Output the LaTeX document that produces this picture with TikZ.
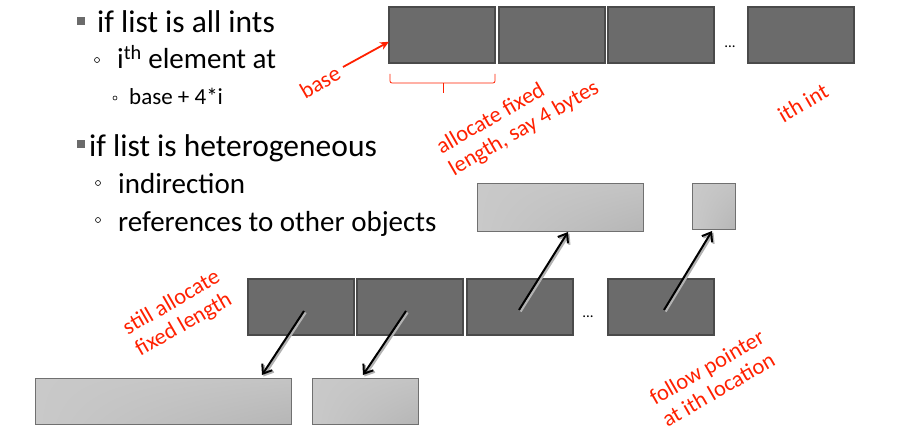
\documentclass[tikz,border=0pt]{standalone}
\usepackage{fontspec}
\setmainfont{Carlito}
\usetikzlibrary{arrows.meta,calc,shadings}
\definecolor{darkfill}{RGB}{107,107,107}
\definecolor{darkline}{RGB}{74,74,74}
\definecolor{lightfill}{RGB}{201,201,201}
\definecolor{lightmid}{RGB}{196,196,196}
\definecolor{lightdark}{RGB}{182,182,182}
\definecolor{lightline}{RGB}{112,112,112}
\definecolor{redlab}{RGB}{255,32,0}
\tikzset{
  darkbox/.style={draw=darkline,line width=2.2pt,fill=darkfill,inner sep=0pt,outer sep=0pt,anchor=north west,minimum height=56pt},
  lightbox/.style={draw=lightline,line width=1pt,inner sep=0pt,outer sep=0pt,anchor=north west,
    upper left=lightfill,upper right=lightmid,lower left=lightfill,lower right=lightdark},
  redtext/.style={text=redlab,font=\fontsize{22.5}{25}\selectfont,rotate=30,align=left,inner sep=0pt},
  bigtext/.style={font=\fontsize{31.5}{36}\selectfont,anchor=base west,inner sep=0pt},
  midtext/.style={font=\fontsize{29}{34}\selectfont,anchor=base west,inner sep=0pt},
  smalltext/.style={font=\fontsize{23}{27}\selectfont,anchor=base west,inner sep=0pt},
  sqbullet/.style={fill=darkfill,inner sep=0pt,minimum size=8pt},
  circbullet/.style={draw=black,line width=0.6pt,circle,inner sep=0pt,minimum size=5pt},
  ptr/.style={line width=2pt,-{Straight Barb[length=8pt,width=12pt,line width=2pt]}},
  dots/.style={font=\fontsize{15}{16}\selectfont,inner sep=0pt}
}
\begin{document}
\begin{tikzpicture}[x=1pt,y=-1pt]
\useasboundingbox (0,0) rectangle (903,444);
% bullets and text
\node[sqbullet] (b1) at (81,21.5) {};
\node[bigtext] (t1) at (97,33) {if list is all ints};
\node[circbullet] (c1) at (97,60) {};
\node[midtext] (t2) at (117,69) {i\textsuperscript{th} element at};
\node[circbullet,minimum size=4pt] (c2) at (115,98) {};
\node[smalltext] (t3) at (129,104) {base + 4*i};
\node[sqbullet] (b2) at (81,143.5) {};
\node[bigtext] (t4) at (89,156) {if list is heterogeneous};
\node[circbullet] (c3) at (98,183) {};
\node[midtext] (t5) at (118,193) {indirection};
\node[circbullet] (c4) at (98,220) {};
\node[midtext] (t6) at (118,231) {references to other objects};
% top row
\node[darkbox,minimum width=106pt] (a1) at (389,7) {};
\node[darkbox,minimum width=106pt] (a2) at (499,7) {};
\node[darkbox,minimum width=106pt] (a3) at (608,7) {};
\node[dots] (d1) at (730,47) {...};
\node[darkbox,minimum width=106pt] (a4) at (748,7) {};
% base arrow
\coordinate (basetail) at (343,67);
\node[redtext] (lbase) at (320,82) {base};
\draw[redlab,line width=1.8pt,-{Stealth[length=9pt,width=8pt]}] (basetail) -- ($(a1.north west)!0.62!(a1.south west)$);
% bracket
\draw[redlab,line width=0.8pt,rounded corners=2pt] (390,74) -- (390,83) -- (495,83) -- (495,74);
\draw[redlab,line width=0.8pt] (443,83) -- (443,93);
\node[redtext] (lalloc) at (518,118) {allocate fixed\\length, say 4 bytes};
\node[redtext] (lith) at (803,103) {ith int};
% pointed-to boxes
\node[lightbox,minimum width=166pt,minimum height=48pt] (h1) at (477,183) {};
\node[lightbox,minimum width=43pt,minimum height=46pt] (h2) at (692,183) {};
% middle row
\node[darkbox,minimum width=106pt] (m1) at (248,279) {};
\node[darkbox,minimum width=106pt] (m2) at (357,279) {};
\node[darkbox,minimum width=106pt] (m3) at (467,279) {};
\node[dots] (d2) at (588,317) {...};
\node[darkbox,minimum width=106pt] (m4) at (608,279) {};
% bottom boxes
\node[lightbox,minimum width=256pt,minimum height=46pt] (l1) at (35,378) {};
\node[lightbox,minimum width=106pt,minimum height=46pt] (l2) at (312,378) {};
% pointers
\coordinate (p1) at (304,311);
\coordinate (p2) at (406,311);
\coordinate (p3) at (519,310);
\coordinate (p4) at (664,310);
\coordinate (q1) at (262,375);
\coordinate (q2) at (363,375);
\coordinate (q3) at (568,232);
\coordinate (q4) at (712,231);
\foreach \s/\e in {p1/q1,p2/q2,p3/q3,p4/q4}{
  \draw[ptr,black!30,line width=2.4pt,transform canvas={shift={(1.5pt,-1.5pt)}}] (\s) -- (\e);
  \draw[ptr] (\s) -- (\e);
}
\node[redtext] (lstill) at (178,314) {still allocate\\fixed length};
\node[redtext] (lfollow) at (713,378) {follow pointer\\at ith location};
\end{tikzpicture}
\end{document}
